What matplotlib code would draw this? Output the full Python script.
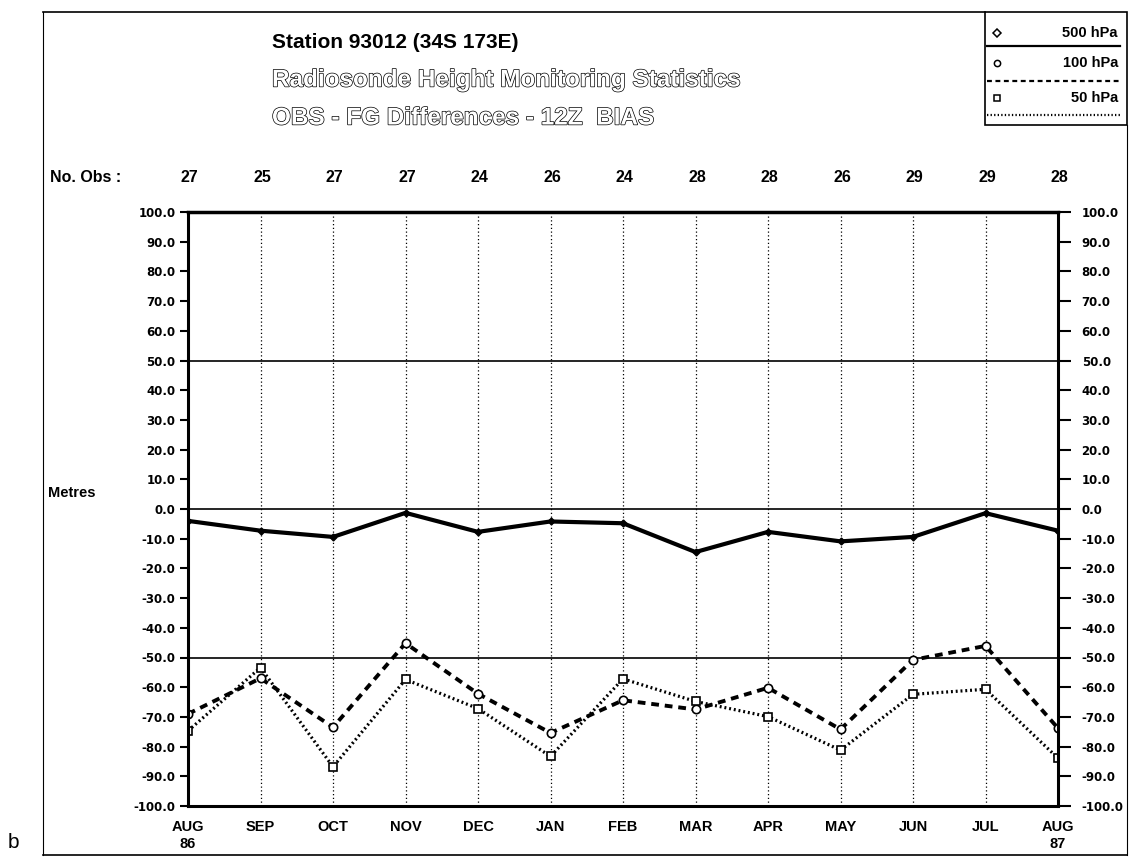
import matplotlib
matplotlib.use('Agg')
import matplotlib.pyplot as plt
import matplotlib.patheffects as pe
from matplotlib.lines import Line2D
from matplotlib.patches import Rectangle

plt.rcParams['font.family'] = ['Liberation Sans', 'DejaVu Sans']

# ---------------------------------------------------
# datos
# ---------------------------------------------------
meses = ['AUG\n86', 'SEP', 'OCT', 'NOV', 'DEC', 'JAN', 'FEB', 'MAR',
         'APR', 'MAY', 'JUN', 'JUL', 'AUG\n87']
n_obs = [27, 25, 27, 27, 24, 26, 24, 28, 28, 26, 29, 29, 28]

bias_500 = [-4.0, -7.3, -9.4, -1.3, -7.7, -4.2, -4.8, -14.5, -7.7, -10.9, -9.4, -1.4, -7.3]
bias_100 = [-69.0, -57.0, -73.5, -45.2, -62.2, -75.4, -64.4, -67.5, -60.2, -74.2, -50.8, -46.1, -73.8]
bias_50 = [-74.7, -53.4, -86.8, -57.4, -67.2, -83.3, -57.2, -64.8, -69.9, -81.2, -62.4, -60.7, -83.9]

lineas_ref = [50, 0, -50]
yticks = list(range(-100, 101, 10))
# ---------------------------------------------------

W, H = 1139, 865
fig = plt.figure(figsize=(W / 100, H / 100), dpi=100)


def fx(px):
    return px / W


def fy(py):
    return 1 - py / H


# marco exterior
fig.add_artist(Line2D([fx(43), fx(985)], [fy(12), fy(12)], color='black', lw=1.2))
fig.add_artist(Line2D([fx(43), fx(43)], [fy(12), fy(855)], color='black', lw=0.8))
fig.add_artist(Line2D([fx(43), fx(1127)], [fy(855), fy(855)], color='black', lw=1.2))
fig.add_artist(Line2D([fx(1127), fx(1127)], [fy(125), fy(855)], color='black', lw=0.8))

ax = fig.add_axes([fx(188), fy(806), fx(1058) - fx(188), fy(212) - fy(806)])
x = list(range(len(meses)))

for xv in x[1:-1]:
    ax.axvline(xv, color='black', lw=0.9, ls=(0, (1, 2)))
for yv in lineas_ref:
    ax.axhline(yv, color='black', lw=1.2)

ax.plot(x, bias_500, color='black', lw=3, marker='D', ms=3.5,
        mfc='black', mec='black')
ax.plot(x, bias_100, color='black', lw=2.8, ls=(0, (2.0, 1.5)),
        marker='o', ms=6, mfc='white', mec='black', mew=1.2)
ax.plot(x, bias_50, color='black', lw=2.3, ls=(0, (0.6, 0.9)),
        marker='s', ms=6, mfc='white', mec='black', mew=1.2)

tick_font = dict(family='DejaVu Sans', size=8.5, weight='bold')

ax.set_xlim(0, 12)
ax.set_ylim(-100, 100)
ax.set_yticks(yticks)
ax.set_yticklabels(['%.1f' % v for v in yticks], fontdict=tick_font)
ax.tick_params(axis='y', direction='out', length=6, width=1.5, pad=3)
ax.set_xticks(x)
ax.set_xticklabels(meses, fontsize=10.5, fontweight='bold', va='top', linespacing=1.3)
ax.tick_params(axis='x', length=0, pad=10)

ax.spines['top'].set_linewidth(2.5)
ax.spines['bottom'].set_linewidth(2.2)
ax.spines['left'].set_linewidth(2.2)
ax.spines['right'].set_linewidth(2.2)

ax2 = ax.twinx()
ax2.set_ylim(-100, 100)
ax2.set_yticks(yticks)
ax2.set_yticklabels(['%.1f' % v for v in yticks], fontdict=tick_font)
ax2.tick_params(axis='y', direction='out', length=9, width=1.5, pad=8)
for s in ax2.spines.values():
    s.set_visible(False)

# numero de observaciones
trans = ax.get_xaxis_transform()
for xv, n in zip(x, n_obs):
    ax.text(xv + 0.02, 1.058, str(n), transform=trans, ha='center', va='center',
            fontsize=11.5, fontweight='bold')
fig.text(fx(50), fy(178), 'No. Obs :', ha='left', va='center', fontsize=11.5,
         fontweight='bold')
fig.text(fx(48), fy(493), 'Metres', ha='left', va='center', fontsize=10.5,
         fontweight='bold')

# titulo
fig.text(fx(272), fy(42), 'Station 93012 (34S 173E)', ha='left', va='center',
         fontsize=15, fontweight='bold')
hueco = [pe.withStroke(linewidth=1.0, foreground='black')]
fig.text(fx(272), fy(80), 'Radiosonde Height Monitoring Statistics', ha='left',
         va='center', fontsize=17.5, fontweight='bold', color='white', path_effects=hueco)
fig.text(fx(272), fy(118), 'OBS - FG Differences - 12Z  BIAS', ha='left',
         va='center', fontsize=17.5, fontweight='bold', color='white', path_effects=hueco)

# leyenda
fig.add_artist(Rectangle((fx(985), fy(125)), fx(1127) - fx(985), fy(12) - fy(125),
                         fill=False, ec='black', lw=1.2))
filas = [('500 hPa', 'D', '-', 33, 46), ('100 hPa', 'o', (0, (2.2, 1.6)), 63, 81),
         ('50 hPa', 's', (0, (0.6, 1.0)), 98, 115)]
for texto, mk, ls, yt, yl in filas:
    fig.add_artist(Line2D([fx(997)], [fy(yt)], marker=mk, ms=4.5, mfc='white',
                          mec='black', mew=1.1, ls='none'))
    fig.text(fx(1118), fy(yt), texto, ha='right', va='center', fontsize=10.5,
             fontweight='bold')
    fig.add_artist(Line2D([fx(987), fx(1120)], [fy(yl), fy(yl)], color='black',
                          lw=1.6, ls=ls))

fig.text(fx(8), fy(842), 'b', ha='left', va='center', fontsize=15)

fig.savefig('out.png', dpi=100)
